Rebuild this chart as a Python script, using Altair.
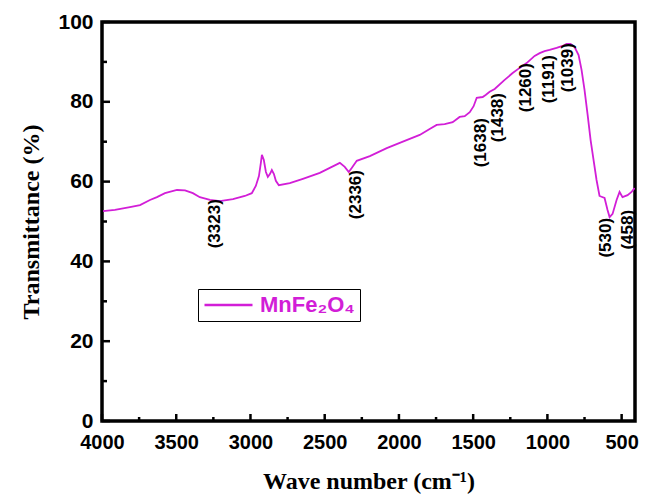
import altair as alt
import pandas as pd

# ---- data ----
wavenumber = [3993, 3913, 3812, 3744, 3677, 3630, 3576, 3495, 3441, 3388, 3341, 3273, 3206,
              3118, 3038, 2991, 2964, 2943, 2930, 2923, 2910, 2896, 2883, 2869, 2856, 2842,
              2829, 2809, 2735, 2647, 2533, 2398, 2365, 2338, 2318, 2284, 2196, 2082, 1961,
              1860, 1793, 1746, 1692, 1638, 1591, 1557, 1523, 1497, 1476, 1436, 1416, 1389,
              1355, 1288, 1234, 1187, 1140, 1086, 1052, 1019, 985, 938, 898, 871, 844, 817,
              790, 770, 750, 729, 709, 689, 669, 649, 615, 595, 581, 561, 534, 514, 494, 460,
              433, 413]
transmittance = [52.6, 52.9, 53.6, 54.1, 55.4, 56.1, 57.1, 57.9, 57.8, 57.1, 56.1, 55.4, 55.1,
                 55.6, 56.4, 57.1, 58.9, 61.4, 64.7, 66.7, 65.4, 62.4, 61.2, 61.9, 62.9, 61.9,
                 60.2, 59.1, 59.6, 60.7, 62.2, 64.7, 63.7, 62.4, 63.4, 65.2, 66.4, 68.4, 70.2,
                 71.7, 73.2, 74.2, 74.4, 74.9, 76.2, 76.4, 77.4, 78.9, 81.0, 81.2, 81.7, 82.5,
                 83.2, 85.5, 87.2, 88.5, 89.7, 91.5, 92.2, 92.7, 93.0, 93.5, 94.0, 94.5, 94.5,
                 93.7, 91.7, 88.0, 83.0, 76.7, 70.4, 65.4, 60.4, 56.4, 55.9, 52.9, 51.1, 51.9,
                 55.4, 57.4, 56.1, 56.6, 57.4, 58.4]

peak_labels = ["(3323)", "(2336)", "(1638)", "(1438)", "(1260)", "(1191)", "(1039)", "(530)", "(458)"]
peak_x = [3240, 2291, 1450, 1335, 1147, 992, 864, 602, 460]
peak_y = [55.6, 62.9, 75.9, 82.2, 89.7, 91.7, 94.7, 50.9, 52.9]

x_major = [4000, 3500, 3000, 2500, 2000, 1500, 1000, 500]
x_minor = [3750, 3250, 2750, 2250, 1750, 1250, 750]
y_major = [0, 20, 40, 60, 80, 100]
y_minor = [10, 30, 50, 70, 90]

sample_name = "MnFe₂O₄"

# ---- layout / style ----
W, H = 533, 399
MAG = "#D21ED7"

spec = pd.DataFrame({"wn": wavenumber, "T": transmittance, "sample": sample_name})
ann = pd.DataFrame({"x": peak_x, "y": peak_y, "label": peak_labels})

xs = alt.Scale(domain=[4000, 410], nice=False, zero=False)
ys = alt.Scale(domain=[0, 100], nice=False, zero=False)

x_axis = alt.Axis(values=x_major, title="Wave number (cm⁻¹)", format="d",
                  labelFlush=False, labelOverlap=False, labelPadding=11, titlePadding=17,
                  labelFontSize=20)
y_axis = alt.Axis(values=y_major, title="Transmittance (%)", format="d",
                  labelFlush=False, labelOverlap=False, labelPadding=9, titlePadding=14)

line = alt.Chart(spec).mark_line(strokeWidth=1.8, clip=True).encode(
    x=alt.X("wn:Q", scale=xs, axis=x_axis),
    y=alt.Y("T:Q", scale=ys, axis=y_axis),
    color=alt.Color("sample:N", scale=alt.Scale(range=[MAG]),
                    legend=alt.Legend(title=None, orient="none", legendX=96, legendY=267,
                                      symbolType="stroke", symbolSize=2304,
                                      symbolStrokeWidth=2.5, clipHeight=22,
                                      labelFont="Liberation Sans", labelFontWeight="bold",
                                      labelFontSize=22, labelColor=MAG, labelOffset=6,
                                      strokeColor="black", padding=5)),
)

def xticks(vals, length):
    return alt.Chart(pd.DataFrame({"wn": vals})).mark_rule(color="black", strokeWidth=2.5).encode(
        x=alt.X("wn:Q", scale=xs, axis=x_axis),
        y=alt.value(H), y2=alt.value(H - length))

def yticks(vals, length):
    return alt.Chart(pd.DataFrame({"T": vals})).mark_rule(color="black", strokeWidth=2.5).encode(
        y=alt.Y("T:Q", scale=ys, axis=y_axis),
        x=alt.value(0), x2=alt.value(length))

labels = alt.Chart(ann).mark_text(angle=270, align="right", baseline="middle",
                                  font="Liberation Sans", fontWeight="bold", fontSize=17,
                                  color="black").encode(
    x=alt.X("x:Q", scale=xs, axis=x_axis),
    y=alt.Y("y:Q", scale=ys, axis=y_axis),
    text="label:N")

chart = alt.layer(
    line, labels,
    xticks(x_major, 7), xticks(x_minor, 4),
    yticks(y_major, 8), yticks(y_minor, 5),
).properties(
    width=W, height=H,
    padding={"left": 102, "top": 22, "right": 12, "bottom": 76},
    autosize=alt.AutoSizeParams(type="none"),
).configure_view(
    stroke="black", strokeWidth=3.5
).configure_axis(
    grid=False, domain=False, ticks=False,
    labelFont="Liberation Sans", labelFontWeight="bold", labelFontSize=21, labelColor="black",
    titleFont="Liberation Serif", titleFontWeight="bold", titleFontSize=24, titleColor="black",
)

chart.save("out.html", embed_options={"renderer": "svg", "actions": False})
